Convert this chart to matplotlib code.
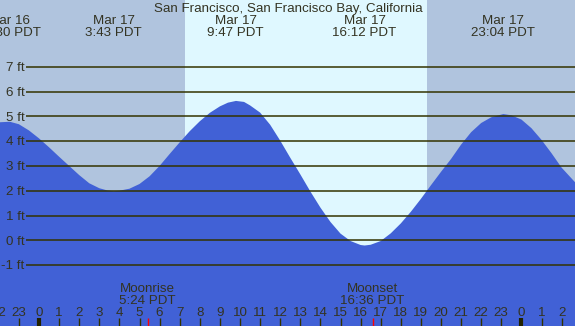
import matplotlib
matplotlib.use("Agg")
import matplotlib.pyplot as plt

# ---- data (hours relative to Mar 17 00:00 PDT) ----
tide_hours = [-1.94, -1.45, -1.0, -0.5, 0.0, 0.5, 1.0, 1.5, 2.0, 2.5, 3.0, 3.4, 3.72, 4.0, 4.5, 5.0, 5.5,
              6.0, 6.5, 7.0, 7.5, 8.0, 8.5, 9.0, 9.4, 9.8, 10.2, 10.5, 11.0, 11.5, 12.0, 12.5,
              13.0, 13.5, 14.0, 14.5, 15.0, 15.5, 16.0, 16.2, 16.5, 17.0, 17.5, 18.0, 18.5,
              19.0, 19.5, 20.0, 20.5, 21.0, 21.5, 22.0, 22.5, 23.1, 23.5, 24.0, 24.5, 25.0,
              25.5, 26.0, 26.67]
tide_ft = [4.76, 4.78, 4.68, 4.43, 4.11, 3.75, 3.37, 3.00, 2.63, 2.30, 2.10, 2.01, 1.98, 2.00, 2.08, 2.27, 2.58,
           3.00, 3.48, 3.95, 4.40, 4.80, 5.14, 5.40, 5.55, 5.62, 5.58, 5.44, 5.15, 4.66, 4.02, 3.33,
           2.66, 1.97, 1.32, 0.74, 0.27, -0.03, -0.19, -0.21, -0.18, -0.03, 0.28, 0.68, 1.15,
           1.67, 2.22, 2.76, 3.28, 3.86, 4.36, 4.73, 4.96, 5.09, 5.04, 4.87, 4.52, 4.05,
           3.51, 2.93, 2.34]

extreme_hours = [-1.5, 3.717, 9.783, 16.2, 23.067]
extreme_dates = ["Mar 16", "Mar 17", "Mar 17", "Mar 17", "Mar 17"]
extreme_times = ["22:30 PDT", "3:43 PDT", "9:47 PDT", "16:12 PDT", "23:04 PDT"]

sunrise_h = 7.27
sunset_h = 19.3

moon_events = ["Moonrise", "Moonset"]
moon_times = ["5:24 PDT", "16:36 PDT"]
moon_hours = [5.4, 16.6]

hour_ticks = list(range(-2, 27))
y_ticks = [7, 6, 5, 4, 3, 2, 1, 0, -1]

title = "San Francisco, San Francisco Bay, California"

# ---- styling ----
NIGHT = "#b0c4de"
DAY = "#dff8ff"
FILL = "#4161d6"
LINE = "#333300"
TXT = "#333322"
FONT = "Liberation Sans"
FS = 9.6

W, H = 575, 326
fig = plt.figure(figsize=(W / 100, H / 100), dpi=100)
ax = fig.add_axes([0, 0, 1, 1])

px_per_h = 20.1
x0_px = 39.0
y0_px = 240.3
px_per_ft = 24.8

def hx(px):
    return (px - x0_px) / px_per_h

def fy(py):
    return (y0_px - py) / px_per_ft

ax.set_xlim(hx(0), hx(W))
ax.set_ylim(fy(H), fy(0))
ax.axis("off")

# background
ax.axvspan(hx(0), hx(W), color=NIGHT, zorder=0, lw=0)
ax.axvspan(sunrise_h, sunset_h, color=DAY, zorder=0.5, lw=0)

# tide fill
ax.fill_between(tide_hours, tide_ft, fy(H), color=FILL, lw=0, zorder=1)

# grid lines
for v in y_ticks:
    ax.plot([hx(26), hx(W)], [v, v], color=LINE, lw=1.1, zorder=2, solid_capstyle="butt")
    ax.text(hx(24.5), v - 4.3 / px_per_ft, f"{v} ft", ha="right", va="baseline",
            fontsize=FS, family=FONT, color=TXT, zorder=3)

# title
ax.text(hx(288), fy(12), title, ha="center", va="baseline", fontsize=FS, family=FONT, color=TXT, zorder=3)

# extremes labels
for h, d, t in zip(extreme_hours, extreme_dates, extreme_times):
    ax.text(h, fy(24), d, ha="center", va="baseline", fontsize=FS, family=FONT, color=TXT, zorder=3)
    ax.text(h, fy(36), t, ha="center", va="baseline", fontsize=FS, family=FONT, color=TXT, zorder=3)

# moon labels
for h, e, t in zip(moon_hours, moon_events, moon_times):
    ax.text(h, fy(292), e, ha="center", va="baseline", fontsize=FS, family=FONT, color=TXT, zorder=3)
    ax.text(h, fy(304), t, ha="center", va="baseline", fontsize=FS, family=FONT, color=TXT, zorder=3)
    ax.plot([h, h], [fy(318), fy(H)], color="#ff0000", lw=1, zorder=3, solid_capstyle="butt")

# hour ticks
for h in hour_ticks:
    lab = h % 24
    ax.text(h, fy(316), str(lab), ha="center", va="baseline", fontsize=FS, family=FONT, color=TXT, zorder=3)
    lw = 3 if lab == 0 else 1
    col = "#222200" if lab == 0 else LINE
    ax.plot([h, h], [fy(318), fy(H)], color=col, lw=lw, zorder=3, solid_capstyle="butt")

fig.savefig("out.png", dpi=100)
